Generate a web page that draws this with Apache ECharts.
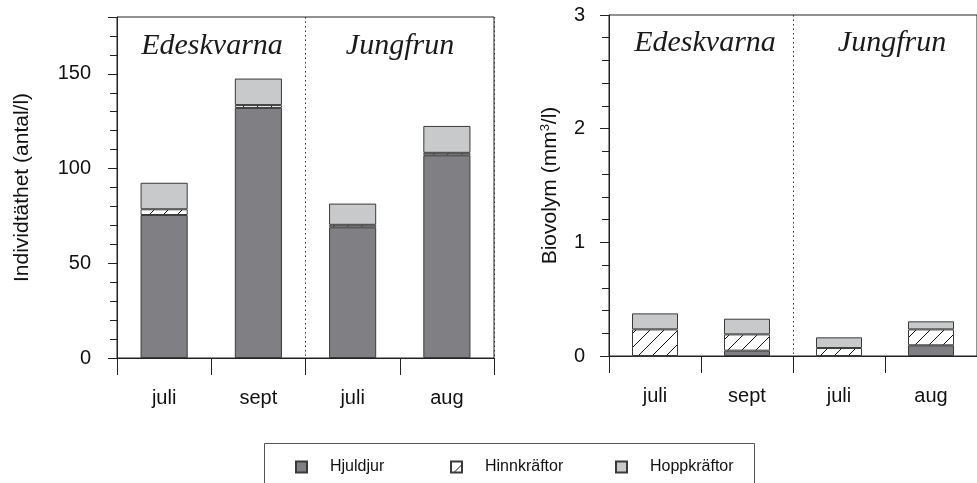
<!DOCTYPE html>
<html>
<head>
<meta charset="utf-8">
<script src="https://cdn.jsdelivr.net/npm/echarts@6/dist/echarts.min.js"></script>
<style>
  html, body { margin: 0; padding: 0; background: #fff; }
  #chart { width: 977px; height: 483px; }
</style>
</head>
<body>
<div id="chart"></div>
<script>
// Sampling occasions (two lakes, two months each)
const months = ['juli', 'sept', 'juli', 'aug'];
const lakes = ['Edeskvarna', 'Jungfrun'];

// Individual density (antal/l)
const densHjuldjur = [75.5, 132, 69, 107];
const densHinnkraftor = [3, 1.5, 1.3, 1.3];
const densHoppkraftor = [14, 14, 11.2, 14.2];

// Biovolume (mm3/l)
const volHjuldjur = [0, 0.047, 0, 0.094];
const volHinnkraftor = [0.234, 0.143, 0.07, 0.14];
const volHoppkraftor = [0.141, 0.138, 0.094, 0.071];

// Value axis ranges and label steps
const densMax = 180, densStep = 50;
const volMax = 3, volStep = 1;

const DARK = '#808084';
const LIGHT = '#c8c9ca';
const EDGE = '#3a3a3a';
const AXIS = '#222';
const SANS = 'Liberation Sans, Arial';

// Diagonal hatch used for Hinnkräftor
function hatchPattern() {
  const s = 14;
  const c = document.createElement('canvas');
  c.width = s; c.height = s;
  const g = c.getContext('2d');
  g.fillStyle = '#fff';
  g.fillRect(0, 0, s, s);
  g.strokeStyle = '#111';
  g.lineWidth = 1;
  g.beginPath();
  g.moveTo(-1, s + 1); g.lineTo(s + 1, -1);
  g.moveTo(-1, 1); g.lineTo(1, -1);
  g.moveTo(s - 1, s + 1); g.lineTo(s + 1, s - 1);
  g.stroke();
  return { image: c, repeat: 'repeat' };
}
const HATCH = hatchPattern();

const chart = echarts.init(document.getElementById('chart'), null, { renderer: 'canvas' });

// Category axis; the dotted split line separates the two lakes
function xAxisFor(gridIndex) {
  return {
    type: 'category', gridIndex, data: months,
    axisLine: { lineStyle: { color: AXIS, width: 1 } },
    axisTick: { show: true, length: 17, lineStyle: { color: AXIS } },
    axisLabel: { color: '#111', fontFamily: SANS, fontSize: 20, margin: 30 },
    splitLine: {
      show: true,
      interval: (i) => i === 0 || i === 2,
      lineStyle: { color: '#333', type: [1.5, 3], width: 1 }
    }
  };
}

function yAxisFor(gridIndex, max, step, name, nameGap, margin) {
  return {
    type: 'value', gridIndex, min: 0, max, interval: step,
    name, nameLocation: 'middle', nameGap, nameRotate: 90,
    nameTextStyle: { color: '#111', fontFamily: SANS, fontSize: 21, rich: {
      sup: { fontSize: 13, verticalAlign: 'top', fontFamily: SANS, color: '#111', padding: [0, 0, 9, 0] }
    } },
    axisLine: { show: true, lineStyle: { color: AXIS, width: 1 } },
    axisTick: { show: true, length: 9, lineStyle: { color: AXIS } },
    minorTick: { show: true, splitNumber: 5, length: 7, lineStyle: { color: AXIS } },
    axisLabel: { color: '#111', fontFamily: SANS, fontSize: 20, margin, showMaxLabel: max % step === 0 },
    splitLine: { show: false }
  };
}

function stackSeries(name, values, color, axisIdx, stack) {
  return {
    name, type: 'bar', stack, xAxisIndex: axisIdx, yAxisIndex: axisIdx,
    data: values, barWidth: '50%',
    itemStyle: { color, borderColor: EDGE, borderWidth: 1 },
    emphasis: { disabled: true },
    animation: false
  };
}

const fontSerif = 'Liberation Serif, Times New Roman, serif';
function lakeLabel(x, y, text) {
  return {
    type: 'text', x, y, silent: true,
    style: { text, font: 'italic 30px ' + fontSerif, fill: '#1a1a1a', align: 'center', verticalAlign: 'middle' }
  };
}

const legendBase = {
  orient: 'horizontal', top: 459, itemWidth: 11, itemHeight: 11, padding: 0,
  selectedMode: false, icon: 'rect',
  textStyle: { color: '#111', fontFamily: SANS, fontSize: 16, padding: [0, 0, 0, 18] }
};

chart.setOption({
  animation: false,
  backgroundColor: '#fff',
  grid: [
    { left: 117, top: 17, width: 377, height: 341, show: true, borderColor: AXIS, borderWidth: 1, containLabel: false },
    { left: 609, top: 15, width: 379, height: 341, show: true, borderColor: AXIS, borderWidth: 1, containLabel: false }
  ],
  xAxis: [xAxisFor(0), xAxisFor(1)],
  yAxis: [
    yAxisFor(0, densMax, densStep, 'Individtäthet (antal/l)', 84, 26),
    yAxisFor(1, volMax, volStep, 'Biovolym (mm{sup|3}/l)', 48, 24)
  ],
  legend: [
    Object.assign({}, legendBase, { left: 295, data: ['Hjuldjur'] }),
    Object.assign({}, legendBase, { left: 450, data: ['Hinnkräftor'] }),
    Object.assign({}, legendBase, { left: 615, data: ['Hoppkräftor'] })
  ],
  graphic: [
    lakeLabel(212, 46, lakes[0]),
    lakeLabel(400, 46, lakes[1]),
    lakeLabel(705, 43, lakes[0]),
    lakeLabel(892, 43, lakes[1]),
    {
      type: 'rect', left: 262, top: 441, silent: true,
      shape: { width: 490, height: 60 },
      style: { fill: 'none', stroke: '#555', lineWidth: 1 }
    }
  ],
  series: [
    stackSeries('Hjuldjur', densHjuldjur, DARK, 0, 'dens'),
    stackSeries('Hinnkräftor', densHinnkraftor, HATCH, 0, 'dens'),
    stackSeries('Hoppkräftor', densHoppkraftor, LIGHT, 0, 'dens'),
    stackSeries('Hjuldjur', volHjuldjur, DARK, 1, 'vol'),
    stackSeries('Hinnkräftor', volHinnkraftor, HATCH, 1, 'vol'),
    stackSeries('Hoppkräftor', volHoppkraftor, LIGHT, 1, 'vol')
  ]
});
</script>
</body>
</html>
